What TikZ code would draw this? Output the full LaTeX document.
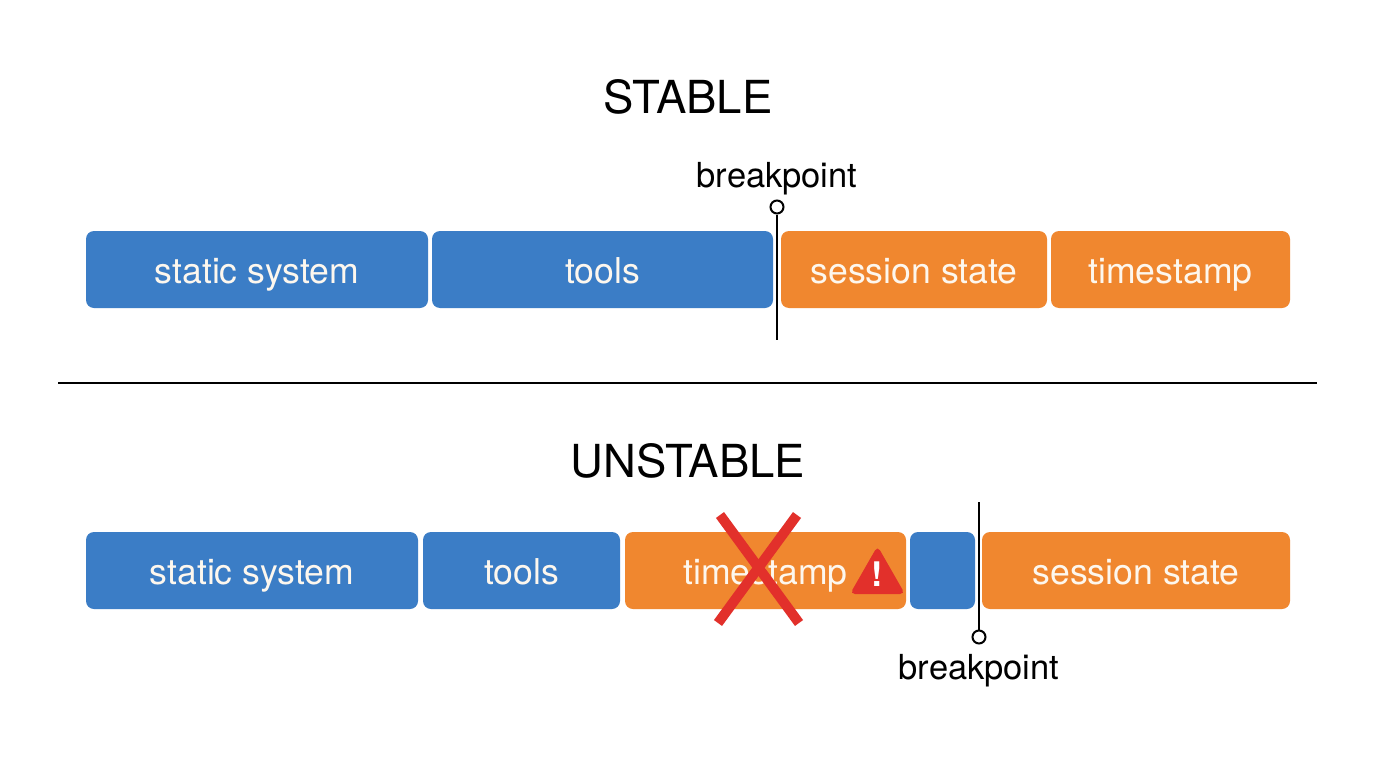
\documentclass[tikz,border=0pt]{standalone}
\usepackage{fontspec}
\setmainfont{TeX Gyre Heros}
\usepackage{xcolor}
\definecolor{Prefix Blue}{HTML}{3B7DC6}
\definecolor{Tail Orange}{HTML}{F0872F}
\definecolor{Alarm Red}{HTML}{E2302B}
\definecolor{Soft Cream}{HTML}{FDF7EE}
\colorlet{cBlue}{Prefix Blue}
\colorlet{cOrange}{Tail Orange}
\colorlet{cRed}{Alarm Red}
\colorlet{cText}{Soft Cream}
\usepackage{tikz}
\usetikzlibrary{positioning}
\tikzset{
	block/.style={
		rounded corners=8pt,
		minimum height=77pt,
		text height=27pt,
		text depth=0pt,
		inner sep=0pt,
		text=cText,
		font=\fontsize{35.6}{40}\selectfont
	},
	stable/.style={block, fill=cBlue},
	volatile/.style={block, fill=cOrange},
	heading/.style={
		anchor=base,
		font=\fontsize{45.5}{50}\selectfont
	},
	marker/.style={
		draw,
		circle,
		fill=white,
		line width=2pt,
		minimum size=13pt,
		inner sep=0pt
	},
	bplabel/.style={
		anchor=base,
		font=\fontsize{34.5}{40}\selectfont
	},
	bpline/.style={
		line width=2pt
	}
}

\begin{document}
\begin{tikzpicture}[x=1pt, y=-1pt]
		\fill[white] (0,0) rectangle (1376,768);
		\useasboundingbox (0,0) rectangle (1376,768);

		% stable layout
		\node[heading] (t0) at (688,113) {STABLE};

		\node[stable, minimum width=342pt] (a0) at (257,269.5) {static system};
		\node[stable, minimum width=341pt] (a1) at (602.5,269.5) {tools};
		\node[volatile, minimum width=266pt] (a2) at (914,269.5) {session state};
		\node[volatile, minimum width=239pt] (a3) at (1170.5,269.5) {timestamp};

		\node[bplabel] (l0) at (777,187) {breakpoint};
		\node[marker] (m0) at (777,207) {};
		\coordinate (e0) at (777,340);
		\draw[bpline] (m0) -- (e0);

		% divider
		\coordinate (d0) at (58,383);
		\coordinate (d1) at (1317,383);
		\draw[line width=1.5pt] (d0) -- (d1);

		% unstable layout
		\node[heading] (t1) at (688,477) {UNSTABLE};

		\node[stable, minimum width=332pt] (b0) at (252,570.5) {static system};
		\node[stable, minimum width=197pt] (b1) at (521.5,570.5) {tools};
		\node[volatile, minimum width=281pt] (b2) at (765.5,570.5) {timestamp};
		\node[stable, minimum width=65pt] (b3) at (942.5,570.5) {};
		\node[volatile, minimum width=308pt] (b4) at (1136,570.5) {session state};

		% warning and cross
		\fill[cRed, rounded corners=5pt] (850,594) -- (877.5,546) -- (905,594) -- cycle;
		\node[text=white, font=\fontsize{34}{38}\selectfont\bfseries] (w0) at (877.5,574) {!};
		\draw[cRed, line width=10pt] (720,515) -- (799,623);
		\draw[cRed, line width=10pt] (797,515) -- (718,623);

		\coordinate (e1) at (979,502);
		\node[marker] (m1) at (979,637) {};
		\draw[bpline] (e1) -- (m1);
		\node[bplabel] (l1) at (979,679) {breakpoint};
	\end{tikzpicture}
\end{document}
